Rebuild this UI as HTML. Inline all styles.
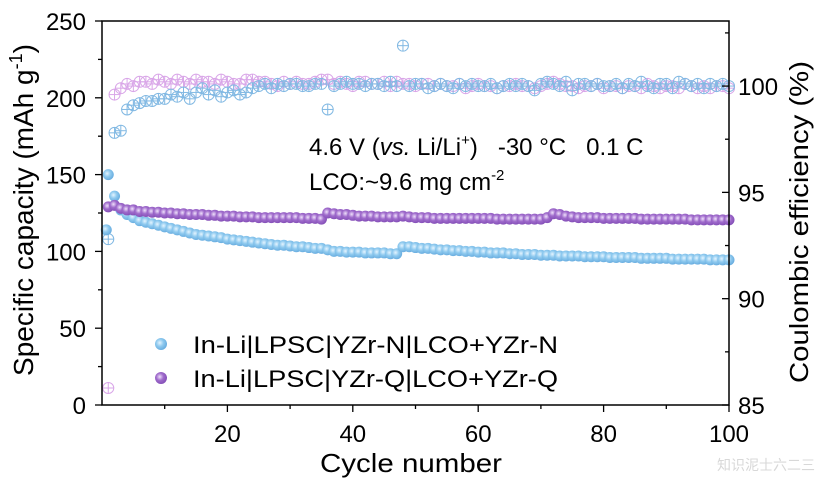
<!DOCTYPE html>
<html><head><meta charset="utf-8"><style>
body{margin:0;background:#fff}
svg{display:block;font-family:"Liberation Sans",Arial,sans-serif}
</style></head><body>
<svg id="chart" width="824" height="485" viewBox="0 0 824 485" xmlns="http://www.w3.org/2000/svg">
<defs>
<radialGradient id="gb" cx="0.4" cy="0.4" r="0.6"><stop offset="0" stop-color="#e4f4ff"/><stop offset="0.5" stop-color="#8fcaef"/><stop offset="1" stop-color="#6aaee0"/></radialGradient>
<radialGradient id="gp" cx="0.4" cy="0.4" r="0.6"><stop offset="0" stop-color="#efe0fb"/><stop offset="0.5" stop-color="#a06ccc"/><stop offset="1" stop-color="#8550b8"/></radialGradient>
</defs>
<g id="marks"></g>
<g id="axes"></g>
<text x="309" y="155" font-size="24" xml:space="preserve" style="white-space:pre">4.6 V (<tspan font-style="italic">vs.</tspan> Li/Li<tspan font-size="15" dy="-10">+</tspan><tspan dy="10">)   -30 °C   0.1 C</tspan></text>
<text x="309" y="190" font-size="24">LCO:~9.6 mg cm<tspan font-size="15" dy="-10">-2</tspan></text>
<g>
<circle cx="161" cy="344" r="6" fill="url(#gb)"/>
<text x="193" y="353" font-size="24" textLength="365" lengthAdjust="spacingAndGlyphs">In-Li|LPSC|YZr-N|LCO+YZr-N</text>
<circle cx="161" cy="378" r="6" fill="url(#gp)"/>
<text x="193" y="387" font-size="24" textLength="365" lengthAdjust="spacingAndGlyphs">In-Li|LPSC|YZr-Q|LCO+YZr-Q</text>
</g>
<text x="815" y="470" font-size="14" fill="#d8d8d8" text-anchor="end" font-family="'Liberation Sans','Noto Sans CJK SC',sans-serif">知识泥士六二三</text>
</svg>
<script>
const capN=[150,136,127,124,122,120,119,118,117,116,115,114,113,112,111,110.5,110,109.5,109,108,107.5,107,106.5,106,105.5,105,104.5,104,104,103.5,103,103,102.5,102,102,101,100,100,99.5,99.5,99.5,99,99,99,99,98.5,98.5,103,103,102.5,102,102,101.5,101,101,100.5,100.5,100,100,99.5,99.5,99,99,99,98.5,98.5,98,98,98,97.5,97.5,97.5,97,97,97,97,96.5,96.5,96.5,96.5,96,96,96,96,96,95.5,95.5,95.5,95.5,95.5,95,95,95,95,95,95,94.5,94.5,94.5,94.5];
const capQ=[129,130,128,127,127,126,126,125.5,125.5,125,125,124.5,124.5,124,124,124,123.5,123.5,123,123,123,122.5,122.5,122.5,122,122,122,122,122,122,122,121.5,121.5,121.5,121,125,124.5,124,124,123.5,123,123,123,122.5,122.5,122.5,122.5,123,122.5,122,122,122,121.5,121.5,121.5,121.5,121.5,121.5,121.5,121.5,121.5,121.5,121,121,121,121,121,121,121,121,122,124.5,124,123,122.5,122,122,122,122,121.5,121.5,121.5,121.5,121.5,121.5,121,121,121,121,121,121,121,121,120.5,120.5,120.5,120.5,120.5,120.5,120.5];
const capNExtra=[[1,114]];
const ceN=[92.8,97.8,97.9,98.9,99.1,99.2,99.3,99.3,99.4,99.4,99.6,99.5,99.7,99.4,99.7,99.9,99.6,99.8,99.5,99.7,99.8,99.6,99.7,99.9,100,100.1,99.9,100.1,100,100.1,100.1,100,100,100.1,100.1,98.9,100,100.1,100.2,100.1,100.1,100,100.1,100.1,100,100.2,100,101.9,100,100.1,100.1,99.9,100,100.1,100,99.9,100.1,100,100.1,100,100,100.1,99.9,100,100.1,100,100.1,100,99.8,100.1,100.2,100.1,100,100.2,99.8,100.1,100.1,100,100.1,100,100,100.1,99.9,100.1,100,100.2,100,99.9,100.1,100.1,99.9,100.2,100.1,100,100.1,99.9,100.1,100,100.1,100];
const ceQ=[85.8,99.6,99.9,100.1,100.0,100.2,100.2,100.1,100.3,100.2,100.1,100.3,100.2,100.1,100.3,100.2,100.2,100.1,100.3,100.2,100.1,100.1,100.3,100.3,100.2,100.2,100.1,100.0,100.2,100.1,100.2,100.1,100.1,100.2,100.3,100.3,100.1,100.2,100.1,100.0,100.2,100.2,100.1,100.1,100.2,100.0,100.2,100.1,100.1,100.0,100.1,100.1,100.0,100.1,100.0,100.0,100.1,99.9,100.0,100.1,100.0,100.0,99.9,100.0,100.0,100.1,100.0,100.0,99.9,100.0,100.1,100.2,100.1,100.0,100.0,99.9,100.0,100.0,100.1,99.9,100.0,100.0,99.9,100.0,100.0,99.9,100.1,100.0,99.9,100.0,100.0,99.9,100.1,100.0,99.9,100.0,99.9,100.0,100.0,99.9];
const xTicks=[20,40,60,80,100];
const yTicks=[0,50,100,150,200,250];
const y2Ticks=[85,90,95,100];

const L=102,R=729,T=21,B=405;
const sx=v=>L+(v-0)/(100-0)*(R-L);
const sy=v=>B-(v/250)*(B-T);
const sy2=v=>B-(v-85)/(103.06-85)*(B-T);
const NS='http://www.w3.org/2000/svg';
const marks=document.getElementById('marks'),axes=document.getElementById('axes');
function mk(tag,attrs,parent){const e=document.createElementNS(NS,tag);for(const k in attrs)e.setAttribute(k,attrs[k]);parent.appendChild(e);return e;}

function ceMarker(x,y,color,name){
  const g=mk('g',{stroke:color,'stroke-width':1,fill:'none'},marks);
  
  
  mk('circle',{cx:x,cy:y,r:5.5},g);
  mk('line',{x1:x-5.5,y1:y,x2:x+5.5,y2:y},g);
  mk('line',{x1:x,y1:y-5.5,x2:x,y2:y+5.5},g);
}
ceQ.forEach((v,i)=>{if(v!=null)ceMarker(sx(i+1),sy2(v),'#d9a6e8','ce-point-yzr-q');});
ceN.forEach((v,i)=>{if(v!=null)ceMarker(sx(i+1),sy2(v),'#82b9e3','ce-point-yzr-n');});
function capMarker(x,y,grad,name){
  const c=mk('circle',{cx:x,cy:y,r:5.5,fill:grad},marks);
  
  
}
capNExtra.forEach(p=>capMarker(sx(p[0])-2,sy(p[1]),'url(#gb)','capacity-point-yzr-n'));
capN.forEach((v,i)=>capMarker(sx(i+1),sy(v),'url(#gb)','capacity-point-yzr-n'));
capQ.forEach((v,i)=>capMarker(sx(i+1),sy(v),'url(#gp)','capacity-point-yzr-q'));

const frame=mk('rect',{x:L,y:T,width:R-L,height:B-T,fill:'none',stroke:'#000','stroke-width':1.5},axes);


for(let v=10;v<=100;v+=10){mk('line',{x1:sx(v),y1:B,x2:sx(v),y2:B+(v%20?4:7),stroke:'#000','stroke-width':1.3},axes);}
xTicks.forEach(v=>{const t=mk('text',{x:sx(v),y:442,'font-size':24,'text-anchor':'middle'},axes);t.textContent=v;

});
for(let v=0;v<=250;v+=25){mk('line',{x1:L,y1:sy(v),x2:L-(v%50?4:7),y2:sy(v),stroke:'#000','stroke-width':1.3},axes);}
yTicks.forEach(v=>{const t=mk('text',{x:86,y:sy(v)+9,'font-size':24,'text-anchor':'end'},axes);t.textContent=v;

});
for(let v=85;v<=102.5;v+=2.5){mk('line',{x1:R,y1:sy2(v),x2:R-(v%5?4:7),y2:sy2(v),stroke:'#000','stroke-width':1.3},axes);}
y2Ticks.forEach(v=>{const t=mk('text',{x:R+9,y:sy2(v)+9,'font-size':24},axes);t.textContent=v;

});
const xt=mk('text',{x:411,y:472,'font-size':26,'text-anchor':'middle',textLength:182,lengthAdjust:'spacingAndGlyphs'},axes);xt.textContent='Cycle number';


const yt=mk('text',{x:0,y:0,'font-size':28,'text-anchor':'middle',transform:`translate(33,210) rotate(-90)`},axes);
yt.innerHTML='Specific capacity (mAh g<tspan font-size="18" dy="-11">-1</tspan><tspan dy="11">)</tspan>';


const y2t=mk('text',{x:0,y:0,'font-size':26,'text-anchor':'middle',transform:`translate(808,222) rotate(-90)`,textLength:322,lengthAdjust:'spacingAndGlyphs'},axes);
y2t.textContent='Coulombic efficiency (%)';


</script>
</body></html>
